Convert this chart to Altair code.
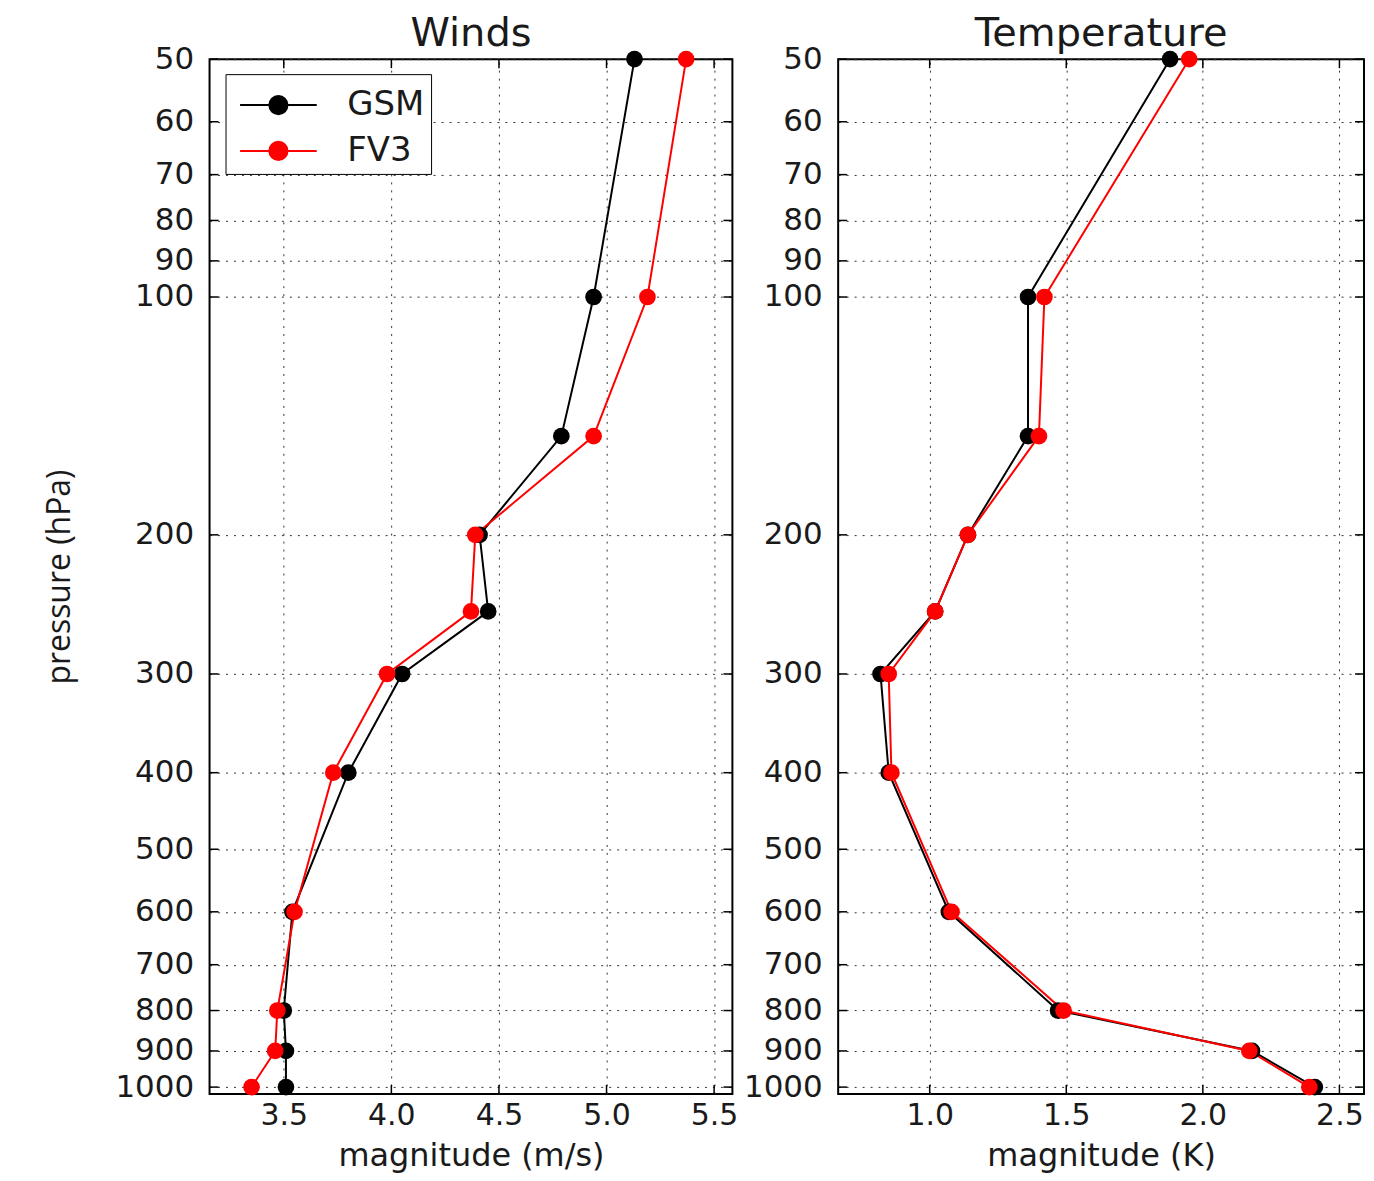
import altair as alt
import pandas as pd

# pressure levels (hPa)
levels = [50, 100, 150, 200, 250, 300, 400, 600, 800, 900, 1000]

# Winds magnitude (m/s)
wind_gsm = [5.13, 4.94, 4.79, 4.41, 4.45, 4.05, 3.80, 3.54, 3.50, 3.51, 3.51]
wind_fv3 = [5.37, 5.19, 4.94, 4.39, 4.37, 3.98, 3.73, 3.55, 3.47, 3.46, 3.35]

# Temperature magnitude (K)
temp_gsm = [1.88, 1.36, 1.36, 1.14, 1.02, 0.82, 0.85, 1.07, 1.47, 2.18, 2.41]
temp_fv3 = [1.95, 1.42, 1.40, 1.14, 1.02, 0.85, 0.86, 1.08, 1.49, 2.17, 2.39]

series = ["GSM", "FV3"]
series_colors = ["black", "#ff0000"]

y_ticks = [50, 60, 70, 80, 90, 100, 200, 300, 400, 500, 600, 700, 800, 900, 1000]
wind_ticks = [3.5, 4.0, 4.5, 5.0, 5.5]
temp_ticks = [1.0, 1.5, 2.0, 2.5]

H = 1037
TXT = "#1a1a1a"
LEGEND_PATH = ("M-1.6,0L1.6,0M0.38,0A0.38,0.38,0,1,1,-0.38,0A0.38,0.38,0,1,1,0.38,0Z")


def panel(gsm, fv3, xdomain, xticks, xtitle, ptitle, width, first):
    df = pd.DataFrame({
        "p": levels * 2,
        "v": gsm + fv3,
        "model": ["GSM"] * len(levels) + ["FV3"] * len(levels),
        "k": list(range(len(levels))) * 2,
    })
    yscale = alt.Scale(type="log", domain=[50, 1020], reverse=True, nice=False, zero=False)
    xscale = alt.Scale(domain=xdomain, nice=False, zero=False)

    yaxis = alt.Axis(
        values=y_ticks, format="d", ticks=False, domain=False,
        labelFontSize=31, labelPadding=16, labelColor=TXT, labelOverlap=False,
        labelFlush=False, labelBound=False,
        grid=True, gridDash=[2, 6], gridColor="#333333", gridOpacity=1, gridWidth=1,
        title="pressure (hPa)" if first else None,
        titleFont="Open Sans", titleFontSize=32, titleFontWeight="normal",
        titleColor=TXT, titlePadding=21, minExtent=112, maxExtent=112,
    )
    xaxis = alt.Axis(
        values=xticks, format=".1f", ticks=False, domain=False,
        labelFontSize=30, labelPadding=7, labelColor=TXT, labelOverlap=False,
        labelFlush=False, labelBound=False,
        grid=True, gridDash=[2, 6], gridColor="#333333", gridOpacity=1, gridWidth=1,
        title=xtitle, titleFontSize=32, titleFontWeight="normal", titleColor=TXT,
        titlePadding=10,
    )

    if first:
        legend = alt.Legend(
            title=None, orient="none", legendX=16, legendY=15,
            fillColor="white", strokeColor="black", cornerRadius=0, padding=6,
            labelFontSize=34, labelColor=TXT, labelOffset=44,
            symbolType=LEGEND_PATH, symbolSize=2304, symbolStrokeWidth=2,
            symbolOffset=22, rowPadding=4,
        )
    else:
        legend = None

    color = alt.Color("model:N", scale=alt.Scale(domain=series, range=series_colors), legend=legend)

    base = alt.Chart(df).encode(
        x=alt.X("v:Q", scale=xscale, axis=xaxis),
        y=alt.Y("p:Q", scale=yscale, axis=yaxis),
        color=color,
        detail="model:N",
        order="k:Q",
    )
    lines = base.mark_line(strokeWidth=2)
    points = base.mark_point(filled=True, size=280, opacity=1)

    ydf = pd.DataFrame({"p": y_ticks})
    xdf = pd.DataFrame({"v": xticks})
    ytk = alt.Y("p:Q", scale=yscale, axis=yaxis)
    xtk = alt.X("v:Q", scale=xscale, axis=xaxis)
    rl = alt.Chart(ydf).mark_rule(color="black", strokeWidth=1.5).encode(
        y=ytk, x=alt.value(0), x2=alt.value(9))
    rr = alt.Chart(ydf).mark_rule(color="black", strokeWidth=1.5).encode(
        y=ytk, x=alt.value(width), x2=alt.value(width - 9))
    rb = alt.Chart(xdf).mark_rule(color="black", strokeWidth=1.5).encode(
        x=xtk, y=alt.value(H), y2=alt.value(H - 9))
    rt = alt.Chart(xdf).mark_rule(color="black", strokeWidth=1.5).encode(
        x=xtk, y=alt.value(0), y2=alt.value(9))

    return alt.layer(lines, points, rl, rr, rb, rt).properties(
        width=width, height=H,
        title=alt.TitleParams(ptitle, fontSize=40, fontWeight="normal", color=TXT, offset=-11),
    )


left = panel(wind_gsm, wind_fv3, [3.155, 5.585], wind_ticks, "magnitude (m/s)", "Winds", 524, True)
right = panel(temp_gsm, temp_fv3, [0.665, 2.59], temp_ticks, "magnitude (K)", "Temperature", 527, False)

chart = alt.hconcat(left, right, spacing=106, bounds="flush").resolve_scale(
    color="independent", x="independent", y="independent"
).resolve_legend(color="independent").properties(
    padding={"left": 35, "top": 4, "right": 0, "bottom": 0}
).configure(font="DejaVu Sans").configure_view(
    stroke="black", strokeWidth=2
)

chart.save("out.html", embed_options={"renderer": "svg", "actions": False})
